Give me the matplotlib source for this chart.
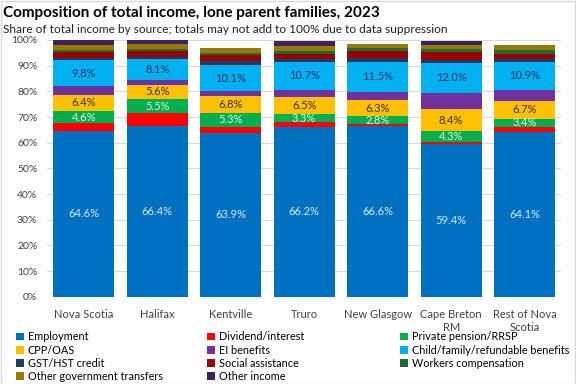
import numpy as np
import matplotlib.pyplot as plt
from matplotlib.patches import Rectangle

plt.rcParams['font.family'] = ['Lato', 'DejaVu Sans']

regions = ['Nova Scotia', 'Halifax', 'Kentville', 'Truro', 'New Glasgow',
           'Cape Breton\nRM', 'Rest of Nova\nScotia']

sources = ['Employment', 'Dividend/interest', 'Private pension/RRSP', 'CPP/OAS',
           'EI benefits', 'Child/family/refundable benefits', 'GST/HST credit',
           'Social assistance', 'Workers compensation', 'Other government transfers',
           'Other income']

employment = [64.6, 66.4, 63.9, 66.2, 66.6, 59.4, 64.1]
dividend = [3.1, 5.1, 2.3, 1.7, 0.8, 0.9, 1.9]
pension = [4.6, 5.5, 5.3, 3.3, 2.8, 4.3, 3.4]
cpp = [6.4, 5.6, 6.8, 6.5, 6.3, 8.4, 6.7]
ei = [3.5, 1.7, 1.8, 3.0, 3.4, 6.2, 4.5]
child = [9.8, 8.1, 10.1, 10.7, 11.5, 12.0, 10.9]
gst = [1.0, 1.0, 1.6, 1.3, 1.5, 0.9, 1.0]
social = [2.3, 2.3, 2.4, 2.0, 2.6, 3.2, 2.2]
workers = [0.9, 0.9, 0.9, 1.0, 1.3, 1.3, 1.3]
other_gov = [1.8, 1.7, 1.8, 2.0, 1.7, 1.5, 1.9]
other_inc = [1.8, 1.7, 0.0, 2.0, 0.0, 1.6, 0.0]

series = [employment, dividend, pension, cpp, ei, child, gst, social,
          workers, other_gov, other_inc]
colors = ['#0070C0', '#FF0000', '#00B050', '#FFC000', '#7030A0', '#00B0F0',
          '#1F3864', '#990000', '#1E6B36', '#997A00', '#3F2160']
# label colour per series (None = no labels)
label_colors = ['#DDEBF7', None, '#E2F5E9', '#333333', None, '#1F3864',
                None, None, None, None, None]

fig = plt.figure(figsize=(5.76, 3.84), dpi=100)
fig.patches.append(Rectangle((0.001, 0.001), 0.997, 0.997, transform=fig.transFigure,
                             fill=False, edgecolor='#D9D9D9', linewidth=1))
ax = fig.add_axes([0.0816, 0.227, 0.893, 0.669])

x = np.arange(len(regions))
bottom = np.zeros(len(regions))
for name, vals, col, lc in zip(sources, series, colors, label_colors):
    vals = np.array(vals)
    ax.bar(x, vals, 0.83, bottom=bottom, color=col, label=name, zorder=2)
    if lc is not None:
        for xi, b, v in zip(x, bottom, vals):
            ax.text(xi, b + v / 2, f'{v:.1f}%', ha='center', va='center',
                    color=lc, fontsize=8, zorder=3)
    bottom += vals

ax.set_ylim(0, 100)
ax.set_xlim(-0.5, len(regions) - 0.5)
ax.set_yticks(np.arange(0, 101, 10))
ax.set_yticklabels([f'{t}%' for t in range(0, 101, 10)], fontsize=7.5, color='#404040')
ax.set_xticks(x)
ax.set_xticklabels(regions, fontsize=8, color='#404040')
ax.tick_params(axis='y', length=0, pad=7)
ax.tick_params(axis='x', length=0, pad=9)
ax.grid(axis='y', color='#D9D9D9', linewidth=0.8, zorder=0)
for s in ax.spines.values():
    s.set_visible(False)

fig.text(0.006, 0.965, 'Composition of total income, lone parent families, 2023',
         fontsize=11, fontweight='bold', va='center')
fig.text(0.006, 0.922, 'Share of total income by source; totals may not add to 100% due to data suppression',
         fontsize=8.6, va='center', color='#202020')

handles, labels = ax.get_legend_handles_labels()
columns = [[0, 3, 6, 9], [1, 4, 7, 10], [2, 5, 8]]
col_x = [16 / 576, 207 / 576, 400 / 576]
for idx, cx in zip(columns, col_x):
    leg = fig.legend([handles[i] for i in idx], [labels[i] for i in idx], ncol=1,
                     loc='upper left', bbox_to_anchor=(cx, 0.137), frameon=False,
                     fontsize=7.8, handlelength=0.7, handleheight=0.7, handletextpad=0.4,
                     labelspacing=0.2, borderaxespad=0, borderpad=0)

fig.savefig('out.png', dpi=100)
